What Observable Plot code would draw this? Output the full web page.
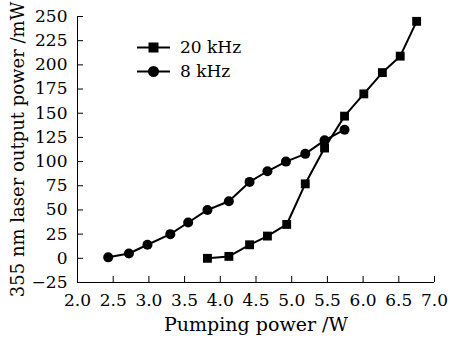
<!DOCTYPE html>
<html><head><meta charset="utf-8">
<script src="https://cdn.jsdelivr.net/npm/d3@7"></script>
<script src="https://cdn.jsdelivr.net/npm/@observablehq/plot@0.6"></script>
<style>
body{margin:0;background:#fff;}
#wrap{position:relative;width:450px;height:338px;font-family:"DejaVu Serif",serif;}
#legend{position:absolute;left:137px;top:35px;font-size:17px;color:#000;}
#legend div{display:flex;align-items:center;height:24px;}
#legend svg{margin-right:10px;}
</style></head><body>
<div id="wrap"><div id="chart"></div>
<div id="legend"></div></div>
<script>
const series = ["20 kHz", "8 kHz"];
const x20 = [3.82, 4.12, 4.41, 4.66, 4.93, 5.19, 5.46, 5.74, 6.01, 6.27, 6.52, 6.75];
const y20 = [0, 2, 14, 23, 35, 77, 114, 147, 170, 192, 209, 245];
const x8 = [2.43, 2.72, 2.98, 3.30, 3.55, 3.82, 4.12, 4.41, 4.66, 4.92, 5.19, 5.46, 5.74];
const y8 = [1, 5, 14, 25, 37, 50, 59, 79, 90, 100, 108, 122, 133];
const xTicks = [2.0, 2.5, 3.0, 3.5, 4.0, 4.5, 5.0, 5.5, 6.0, 6.5, 7.0];
const yTicks = [-25, 0, 25, 50, 75, 100, 125, 150, 175, 200, 225, 250];

const d20 = x20.map((x, i) => ({x, y: y20[i], s: series[0]}));
const d8 = x8.map((x, i) => ({x, y: y8[i], s: series[1]}));

const chart = Plot.plot({
  width: 450, height: 338,
  marginLeft: 77, marginRight: 16, marginTop: 16, marginBottom: 56,
  style: {fontFamily: "DejaVu Serif, serif", fontSize: "17px", color: "#000", background: "#fff"},
  x: {domain: [2, 7], ticks: xTicks, tickFormat: d => d.toFixed(1), label: null},
  y: {domain: [-25, 250], ticks: yTicks, label: null},
  marks: [
    Plot.axisX({ticks: xTicks, tickFormat: d => d.toFixed(1), tickSize: -6, tickPadding: 17, label: null, fontSize: 17}),
    Plot.axisX({ticks: [], tickSize: 0, label: "Pumping power /W", labelAnchor: "center", labelArrow: "none", labelOffset: 48, fontSize: 19}),
    Plot.axisY({ticks: yTicks, tickSize: -6, tickPadding: 16, label: null, fontSize: 17}),
    Plot.axisY({ticks: [], tickSize: 0, label: "355 nm laser output power /mW", labelAnchor: "center", labelOffset: 66, labelArrow: "none", fontSize: 18}),
    Plot.ruleY([-25], {stroke: "#000", strokeWidth: 1}),
    Plot.ruleX([2], {stroke: "#000", strokeWidth: 1}),
    Plot.line(d20, {x: "x", y: "y", stroke: "#000", strokeWidth: 2}),
    Plot.line(d8, {x: "x", y: "y", stroke: "#000", strokeWidth: 2}),
    Plot.dot(d20, {x: "x", y: "y", symbol: "square", r: 5, fill: "#000"}),
    Plot.dot(d8, {x: "x", y: "y", symbol: "circle", r: 5, fill: "#000"})
  ]
});
document.getElementById("chart").appendChild(chart);

const leg = document.getElementById("legend");
series.forEach((s, i) => {
  const row = document.createElement("div");
  const sym = i === 0
    ? '<rect x="11.5" y="7.5" width="10" height="10" fill="#000"/>'
    : '<circle cx="16.5" cy="12.5" r="5.5" fill="#000"/>';
  row.innerHTML = `<svg width="33" height="25"><line x1="0" y1="12.5" x2="33" y2="12.5" stroke="#000" stroke-width="2"/>${sym}</svg><span>${s}</span>`;
  leg.appendChild(row);
});
</script>
</body></html>
